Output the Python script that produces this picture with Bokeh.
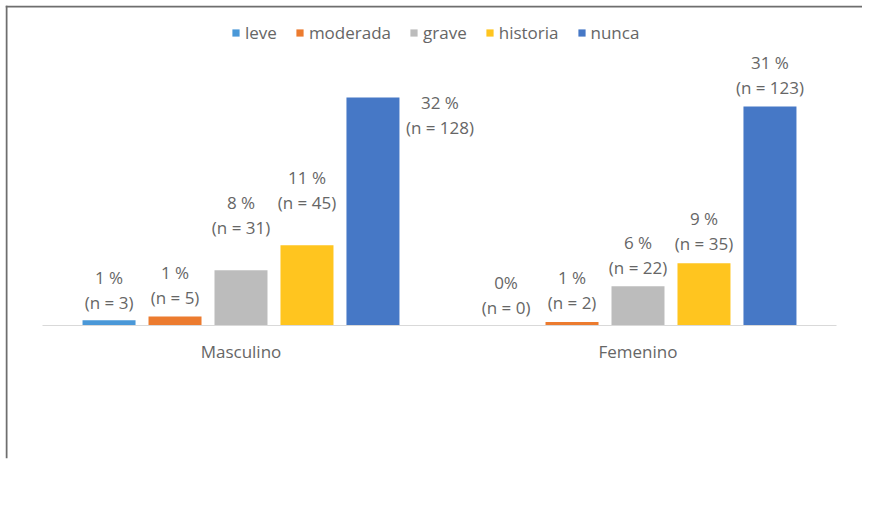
from bokeh.plotting import figure
from bokeh.models import ColumnDataSource, Range1d, FixedTicker, Span
from bokeh.transform import dodge
from bokeh.core.properties import value
from bokeh.embed import file_html
from bokeh.resources import INLINE

# ---- data ----
categories = ["Masculino", "Femenino"]
series = ["leve", "moderada", "grave", "historia", "nunca"]
n_leve = [3, 0]
n_moderada = [5, 2]
n_grave = [31, 22]
n_historia = [45, 35]
n_nunca = [128, 123]
pct_leve = ["1 %", "0%"]
pct_moderada = ["1 %", "1 %"]
pct_grave = ["8 %", "6 %"]
pct_historia = ["11 %", "9 %"]
pct_nunca = ["32 %", "31 %"]

counts = [n_leve, n_moderada, n_grave, n_historia, n_nunca]
pcts = [pct_leve, pct_moderada, pct_grave, pct_historia, pct_nunca]

# ---- styles ----
colors = ["#4A98D8", "#EC7B2F", "#BCBCBC", "#FFC51F", "#4678C6"]
lab_up = [[18, 18], [19, 19], [43, 19], [43, 20], [-30, 19]]
lab_dx = [[0, 0], [0, 0], [0, 0], [0, 0], [67, 0]]
line_gap = 25
FONT = "Open Sans"
TXT = "#666666"
W, H = 862, 496
MB = 38         # bottom border (axis panel)
PX_X = 397.0    # pixels per category
PX_Y = 1.781    # pixels per count
x_start = 0.5 - 37 / PX_X
x_end = x_start + (W - 5) / PX_X
y_end = 320 / PX_Y
y_start = y_end - (H - 5 - MB) / PX_Y

xc = [i + 1 for i in range(len(categories))]

p = figure(
    x_range=Range1d(x_start, x_end),
    y_range=Range1d(y_start, y_end),
    width=W, height=H,
    output_backend="svg", toolbar_location=None,
    min_border_left=5, min_border_right=0,
    min_border_top=5, min_border_bottom=MB,
)
p.outline_line_color = None
p.xgrid.grid_line_color = None
p.ygrid.grid_line_color = None
p.yaxis.visible = False
p.background_fill_color = "white"
p.border_fill_color = "white"

# page frame lines (left and top)
p.add_layout(Span(location=x_start + 1 / PX_X, dimension="height",
                  line_color="#6e6e6e", line_width=2))
p.add_layout(Span(location=y_end - 1 / PX_Y, dimension="width",
                  line_color="#6e6e6e", line_width=2))

step = 0.1662
bar_w = 0.1335
for i, s in enumerate(series):
    src = ColumnDataSource(dict(
        xc=xc,
        top=counts[i],
        pct=pcts[i],
        nlab=[f"(n = {v})" for v in counts[i]],
        dx=lab_dx[i],
        dy_n=[-u for u in lab_up[i]],
        dy_p=[-u - line_gap for u in lab_up[i]],
    ))
    off = (i - 2) * step
    p.vbar(x=dodge("xc", off), top="top", width=bar_w, source=src,
           fill_color=colors[i], line_color=None, legend_label=s)
    p.text(x=dodge("xc", off), y="top", text="nlab", source=src,
           x_offset="dx", y_offset="dy_n", text_align="center", text_baseline="middle",
           text_font=value(FONT), text_font_size="17px", text_color=TXT)
    p.text(x=dodge("xc", off), y="top", text="pct", source=src,
           x_offset="dx", y_offset="dy_p", text_align="center", text_baseline="middle",
           text_font=value(FONT), text_font_size="17px", text_color=TXT)

ax = p.xaxis[0]
ax.ticker = FixedTicker(ticks=xc)
ax.major_label_overrides = {k: c for k, c in zip(xc, categories)}
ax.fixed_location = 0
ax.bounds = (0.5, len(categories) + 0.5)
ax.axis_line_color = "#d9d9d9"
ax.axis_line_width = 1
ax.major_tick_line_color = None
ax.minor_tick_line_color = None
ax.major_tick_out = 0
ax.major_tick_in = 0
ax.major_label_standoff = 14
ax.major_label_text_font = FONT
ax.major_label_text_font_size = "17px"
ax.major_label_text_color = TXT

lg = p.legend[0]
lg.location = (226, H - MB - 5 - 39)
lg.orientation = "horizontal"
lg.border_line_color = None
lg.background_fill_alpha = 0
lg.margin = 0
lg.padding = 0
lg.spacing = 18
lg.glyph_width = 9
lg.glyph_height = 9
lg.label_standoff = 5
lg.label_text_font = FONT
lg.label_text_font_size = "17px"
lg.label_text_color = TXT

open("out.html", "w").write(file_html(p, INLINE))
